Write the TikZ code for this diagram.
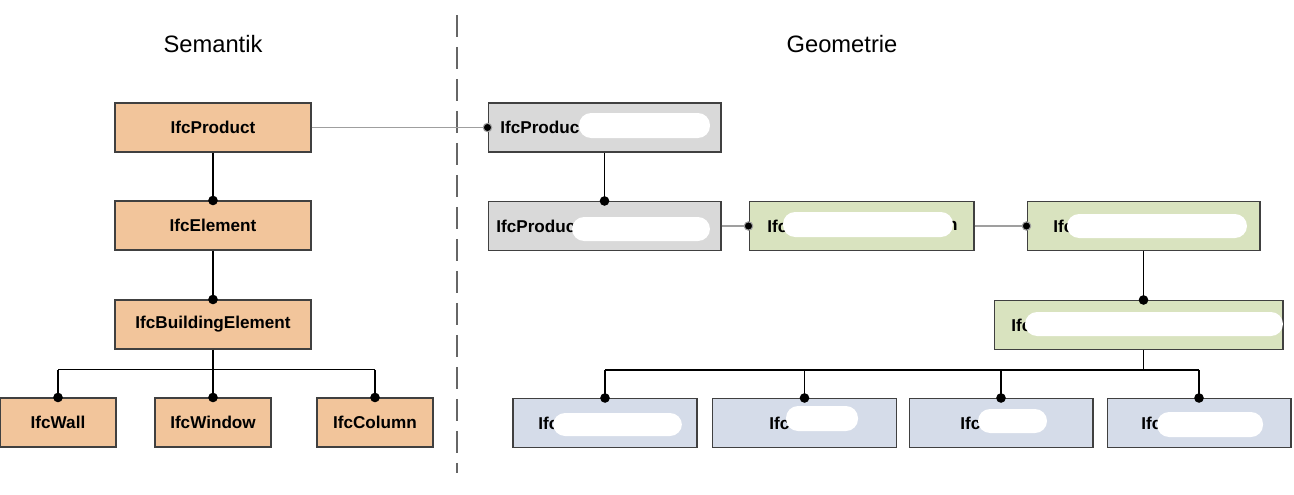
\documentclass[tikz,border=0pt]{standalone}
\usepackage{fontspec}
\setmainfont{Liberation Sans}
\usepackage{tikz}
\usetikzlibrary{arrows.meta,positioning,calc}
\definecolor{semC}{HTML}{F2C59B}
\definecolor{prodC}{HTML}{D9D9D9}
\definecolor{geoC}{HTML}{D9E3BF}
\definecolor{itemC}{HTML}{D5DCE9}
\definecolor{randC}{HTML}{404040}
\tikzset{
  box/.style={rectangle, draw=randC, line width=0.6pt, fill=#1,
              font=\fontsize{9.75}{11}\selectfont\bfseries, minimum height=0.98cm, inner sep=0pt},
  lbl/.style={anchor=west, inner sep=0pt, font=\fontsize{9.75}{11}\selectfont\bfseries},
  blob/.style={rectangle, fill=white, rounded corners=0.24cm, inner sep=0pt},
  titel/.style={font=\fontsize{13.5}{16}\selectfont},
  line/.style={line width=1pt, draw=black},
  tree/.style={line, -{Circle[length=1.9mm]}, shorten >=-0.95mm},
  link/.style={line width=0.6pt, draw=gray!75, -{Circle[length=1.9mm,fill=black]}, shorten >=-0.95mm},
}
\begin{document}
\begin{tikzpicture}[x=0.02cm, y=-0.02cm]
    \useasboundingbox (0,0) rectangle (1294,494);
    % Titel
    \node[titel] (tsem) at (213,44) {Semantik};
    \node[titel] (tgeo) at (842,44) {Geometrie};
    \draw[line width=0.8pt, draw=gray!80!black, dash pattern=on 0.44cm off 0.2cm] (457,15) -- (457,473);
    % Semantik
    \node[box=semC, minimum width=3.92cm] (prod) at (213,127.5) {IfcProduct};
    \node[box=semC, minimum width=3.92cm] (elem) at (213,225.5) {IfcElement};
    \node[box=semC, minimum width=3.92cm] (bldg) at (213,324.5) {IfcBuildingElement};
    \node[box=semC, minimum width=2.32cm] (wall) at (58,422.5) {IfcWall};
    \node[box=semC, minimum width=2.32cm] (window) at (213,422.5) {IfcWindow};
    \node[box=semC, minimum width=2.32cm] (column) at (375,422.5) {IfcColumn};
    \draw[tree] (prod) -- (elem);
    \draw[tree] (elem) -- (bldg);
    \draw[line] (bldg.south) -- ++(0,20) coordinate (busS);
    \draw[line] (wall.north |- busS) -- (column.north |- busS);
    \foreach \k in {wall,window,column}
      \draw[tree] (\k.north |- busS) -- (\k.north);
    % Geometrie
    \node[box=prodC, minimum width=4.66cm] (pa) at (604.5,127.5) {};
    \node[box=prodC, minimum width=4.66cm] (pb) at (604.5,226) {};
    \node[box=geoC, minimum width=4.5cm] (ga) at (861.5,226) {};
    \node[box=geoC, minimum width=4.66cm] (gb) at (1143.5,226) {};
    \node[box=geoC, minimum width=5.78cm] (gc) at (1138.5,325) {};
    \node[box=itemC, minimum width=3.68cm] (ba) at (605,423) {};
    \node[box=itemC, minimum width=3.68cm] (bb) at (804.5,423) {};
    \node[box=itemC, minimum width=3.68cm] (bc) at (1001,423) {};
    \node[box=itemC, minimum width=3.68cm] (bd) at (1199,423) {};
    \draw[link] (prod) -- (pa);
    \draw[tree] (pa) -- (pb);
    \draw[link] (pb) -- (ga);
    \draw[link] (ga) -- (gb);
    \draw[tree] (gb.south) -- (gb.south |- gc.north);
    \draw[line] (gb.south |- gc.south) -- ++(0,20) coordinate (busG);
    \draw[line] (ba.north |- busG) -- (bd.north |- busG);
    \foreach \k in {ba,bb,bc,bd}
      \draw[tree] (\k.north |- busG) -- (\k.north);
    % Beschriftung (teilweise abgedeckt)
    \node[lbl] (pa-t) at (500,127) {IfcProduc};
    \node[lbl] (pb-t) at (496,226) {IfcProduc};
    \node[lbl] (ga-t) at (767,226) {Ifc};
    \node[lbl, anchor=east] (ga-n) at (958,226) {n};
    \node[lbl] (gb-t) at (1053,226) {Ifc};
    \node[lbl] (gc-t) at (1011,325) {Ifc};
    \node[lbl] (ba-t) at (538,423) {Ifc};
    \node[lbl] (bb-t) at (769,423) {Ifc};
    \node[lbl] (bc-t) at (960,423) {Ifc};
    \node[lbl] (bd-t) at (1141,423) {Ifc};
    \node[blob, minimum width=2.62cm, minimum height=0.5cm] (pa-b) at (644.5,125.5) {};
    \node[blob, minimum width=2.76cm, minimum height=0.48cm] (pb-b) at (641,229) {};
    \node[blob, minimum width=3.4cm, minimum height=0.5cm] (ga-b) at (868,224.5) {};
    \node[blob, minimum width=3.6cm, minimum height=0.48cm] (gb-b) at (1157,226) {};
    \node[blob, minimum width=5.16cm, minimum height=0.48cm] (gc-b) at (1154,324) {};
    \node[blob, minimum width=2.58cm, minimum height=0.46cm] (ba-b) at (617.5,424.5) {};
    \node[blob, minimum width=1.44cm, minimum height=0.5cm] (bb-b) at (822,418.5) {};
    \node[blob, minimum width=1.38cm, minimum height=0.48cm] (bc-b) at (1012.5,421) {};
    \node[blob, minimum width=2.12cm, minimum height=0.5cm] (bd-b) at (1210,424.5) {};
\end{tikzpicture}
\end{document}
